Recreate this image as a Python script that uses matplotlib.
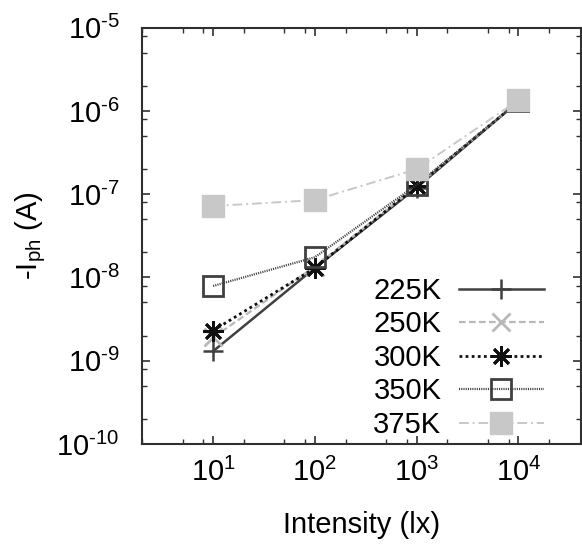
import matplotlib
matplotlib.use("Agg")
import matplotlib.pyplot as plt
from matplotlib.ticker import LogLocator, FuncFormatter, NullFormatter
import numpy as np

plt.rcParams['font.family'] = ['Liberation Sans', 'DejaVu Sans']
plt.rcParams['mathtext.fontset'] = 'custom'
plt.rcParams['mathtext.rm'] = 'Liberation Sans'
plt.rcParams['mathtext.it'] = 'Liberation Sans'

intensity = [10, 100, 1000, 10000]
labels = ['225K', '250K', '300K', '350K', '375K']
i_225 = [1.3e-9, 1.3e-8, 1.2e-7, 1.3e-6]
i_250 = [1.9e-9, 1.35e-8, 1.25e-7, 1.3e-6]
i_300 = [2.3e-9, 1.3e-8, 1.25e-7, 1.3e-6]
i_350 = [7.9e-9, 1.75e-8, 1.3e-7, 1.3e-6]
i_375 = [7.2e-8, 8.5e-8, 2.0e-7, 1.35e-6]

fig = plt.figure(figsize=(5.82, 5.44), dpi=100)
ax = fig.add_axes([0.244, 0.184, 0.754, 0.765])

fs = 21
ax.plot(intensity, i_225, color='#404040', lw=1.8, ls='-', marker='+', ms=14, mew=1.8, label=labels[0])
ax.plot(intensity, i_250, color='#b8b8b8', lw=1.6, ls=(0, (3, 1.5)), marker='x', ms=13, mew=2.0, label=labels[1])
ax.plot(intensity, i_300, color='#101010', lw=2.0, ls=(0, (1, 1.2)), marker=(8, 2, 0), ms=15, mew=2.0, label=labels[2])
ax.plot(intensity, i_350, color='#404040', lw=1.6, ls=(0, (0.5, 0.5)), marker='s', ms=15, mew=2.0, mfc='none', label=labels[3])
ax.plot(intensity, i_375, color='#c8c8c8', lw=1.4, ls=(0, (5, 2, 1, 2)), marker='s', ms=16, mew=1, mfc='#c8c8c8', label=labels[4])

ax.set_xscale('log')
ax.set_yscale('log')
ax.set_xlim(2, 4.1e4)
ax.set_ylim(1e-10, 1e-5)

def fmt(v, pos):
    e = int(np.round(np.log10(v)))
    if e < 0:
        return r'$\mathregular{10^{\text{-}%d}}$' % (-e)
    return r'$\mathregular{10^{%d}}$' % e

ax.xaxis.set_major_locator(LogLocator(base=10, numticks=20))
ax.yaxis.set_major_locator(LogLocator(base=10, numticks=20))
ax.xaxis.set_minor_locator(LogLocator(base=10, subs=(2, 5, 8), numticks=20))
ax.yaxis.set_minor_locator(LogLocator(base=10, subs=(2, 5, 8), numticks=20))
ax.xaxis.set_major_formatter(FuncFormatter(fmt))
ax.yaxis.set_major_formatter(FuncFormatter(fmt))
ax.xaxis.set_minor_formatter(NullFormatter())
ax.yaxis.set_minor_formatter(NullFormatter())

ax.tick_params(which='both', direction='in', top=True, right=True, labelsize=fs, color='#303030')
ax.tick_params(which='major', length=6, width=1.2)
ax.tick_params(axis='x', which='major', pad=10)
ax.tick_params(axis='y', which='major', pad=16)
ax.tick_params(which='minor', length=3.5, width=1.0)
for s in ax.spines.values():
    s.set_linewidth(1.5)
    s.set_color('#303030')

ax.set_xlabel('Intensity (lx)', fontsize=fs, labelpad=17)
ax.set_ylabel('-I$_{\\mathregular{ph}}$ (A)', fontsize=fs, labelpad=6)

leg = ax.legend(loc='lower right', bbox_to_anchor=(0.915, 0.012), frameon=False, fontsize=fs,
                markerfirst=False, handlelength=2.9, labelspacing=0.19, handletextpad=0.6,
                borderaxespad=0.0, borderpad=0.0)

fig.savefig('out.png', dpi=100)
